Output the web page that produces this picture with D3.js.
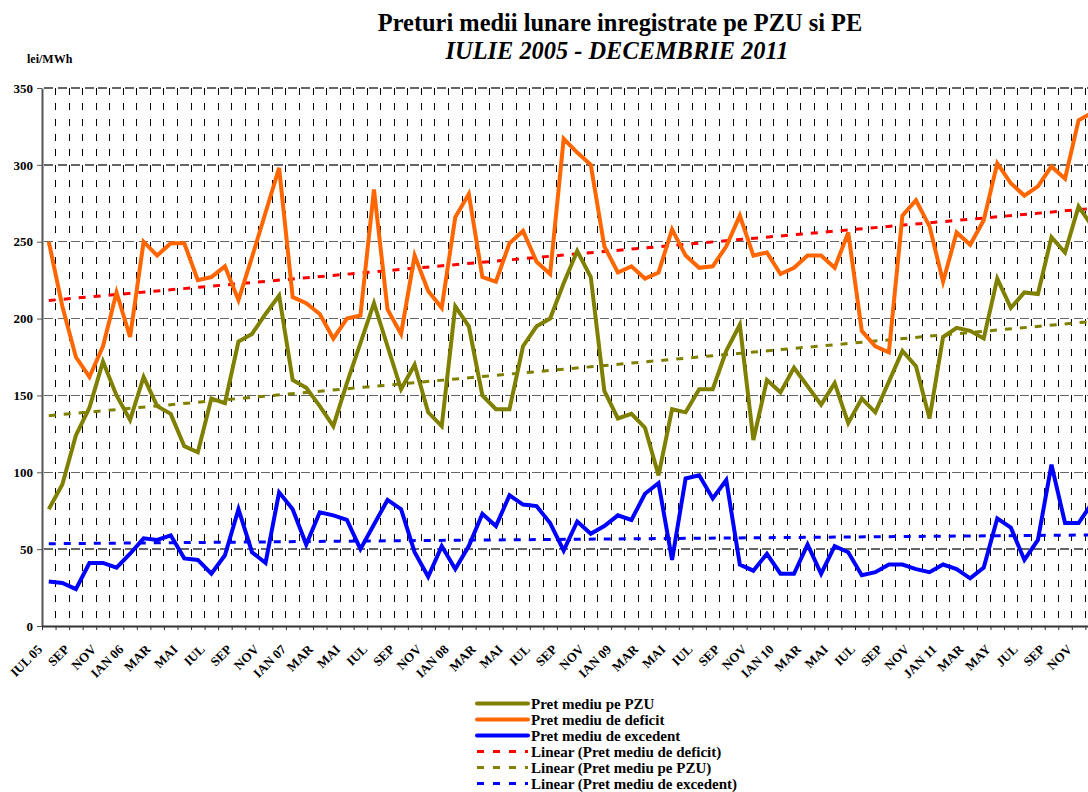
<!DOCTYPE html>
<html>
<head>
<meta charset="utf-8">
<script src="https://cdn.jsdelivr.net/npm/d3@7"></script>
<style>
  html, body { margin: 0; padding: 0; background: #fff; }
  svg { display: block; font-family: "Liberation Serif", "Times New Roman", serif; }
</style>
</head>
<body>
<div id="chart"></div>
<script>
// Etichete luni (o eticheta la doua luni, incepand cu IUL 05)
const monthLabels = ["IUL 05", "SEP", "NOV", "IAN 06", "MAR", "MAI", "IUL", "SEP", "NOV",
  "IAN 07", "MAR", "MAI", "IUL", "SEP", "NOV", "IAN 08", "MAR", "MAI", "IUL", "SEP", "NOV",
  "IAN 09", "MAR", "MAI", "IUL", "SEP", "NOV", "IAN 10", "MAR", "MAI", "IUL", "SEP", "NOV",
  "JAN 11", "MAR", "MAY", "JUL", "SEP", "NOV"];

// Pret mediu pe PZU (iul 2005 - dec 2011)
const pretPZU = [76, 92, 124, 142, 172, 150, 134, 162, 143, 138, 117, 113,
  148, 145, 185, 190, 203, 215, 160, 155, 143, 130, 158, 184,
  210, 182, 154, 170, 139, 130, 208, 195, 150, 141, 141, 182,
  195, 200, 223, 244, 227, 153, 135, 138, 129, 98, 141, 139,
  154, 154, 179, 196, 121, 160, 152, 168, 156, 144, 158, 132,
  148, 139, 159, 179, 169, 135, 188, 194, 192, 187, 226, 207,
  217, 216, 253, 243, 273, 260];

// Pret mediu de deficit
const pretDeficit = [250, 208, 175, 162, 182, 217, 188, 250, 241, 249, 249, 225,
  227, 234, 212, 240, 269, 298, 214, 210, 203, 187, 200, 202,
  284, 206, 190, 241, 218, 207, 266, 281, 227, 224, 249, 257,
  237, 229, 317, 308, 300, 247, 230, 234, 226, 230, 258, 241,
  233, 234, 247, 267, 241, 243, 229, 233, 241, 241, 233, 256,
  192, 182, 178, 267, 277, 260, 224, 256, 248, 264, 301, 288,
  280, 286, 299, 291, 329, 334];

// Pret mediu de excedent
const pretExcedent = [29, 28, 24, 41, 41, 38, 47, 57, 56, 59, 44, 43,
  34, 46, 76, 48, 41, 87, 76, 53, 74, 72, 69, 50,
  66, 82, 76, 48, 32, 52, 37, 52, 73, 65, 85, 79,
  78, 67, 49, 68, 60, 65, 72, 69, 86, 93, 43, 96,
  98, 83, 95, 40, 36, 47, 34, 34, 53, 34, 52, 48,
  33, 35, 40, 40, 37, 35, 40, 37, 31, 38, 70, 64,
  43, 56, 105, 67, 67, 80];

const yTicks = [0, 50, 100, 150, 200, 250, 300, 350];

const W = 1088, H = 792;
const plotLeft = 42, plotTop = 88, plotBottom = 626;
const step = 13.55;
const nMonths = pretPZU.length;

const svg = d3.select("#chart").append("svg")
  .attr("width", W).attr("height", H);

const x = d3.scaleLinear().domain([0, nMonths]).range([plotLeft, plotLeft + nMonths * step]);
const y = d3.scaleLinear().domain([0, 350]).range([plotBottom, plotTop]);
const xc = i => x(i + 0.5);

// ── Titlu ──
svg.append("text")
  .attr("x", 620).attr("y", 31)
  .attr("text-anchor", "middle")
  .attr("font-size", 24.4).attr("font-weight", "bold")
  .text("Preturi medii lunare inregistrate pe PZU si PE");
svg.append("text")
  .attr("x", 617).attr("y", 59)
  .attr("text-anchor", "middle")
  .attr("font-size", 24.4).attr("font-weight", "bold").attr("font-style", "italic")
  .text("IULIE 2005 - DECEMBRIE 2011");
svg.append("text")
  .attr("x", 27).attr("y", 63)
  .attr("font-size", 12).attr("font-weight", "bold")
  .text("lei/MWh");

// ── Grila ──
const grid = svg.append("g");
grid.selectAll("line.v")
  .data(d3.range(1, nMonths + 1))
  .join("line")
  .attr("x1", d => x(d)).attr("x2", d => x(d))
  .attr("y1", plotTop).attr("y2", plotBottom)
  .attr("stroke", "#000").attr("stroke-width", 1)
  .attr("stroke-dasharray", "7,8.37")
  .attr("shape-rendering", "crispEdges");
grid.selectAll("line.h")
  .data(yTicks.filter(d => d > 0))
  .join("line")
  .attr("x1", plotLeft).attr("x2", x(nMonths))
  .attr("y1", d => y(d)).attr("y2", d => y(d))
  .attr("stroke", "#666").attr("stroke-width", 1.3)
  .attr("stroke-dasharray", "9,4.55")
  .attr("stroke-dashoffset", -2)
  .attr("shape-rendering", "crispEdges");

// ── Axe ──
const yAxis = svg.append("g")
  .attr("transform", `translate(${plotLeft},0)`)
  .call(d3.axisLeft(y).tickValues(yTicks).tickSize(5).tickSizeOuter(0).tickPadding(4));
yAxis.select(".domain").attr("stroke", "#555").attr("stroke-width", 2);
yAxis.selectAll(".tick line").attr("stroke", "#555");
yAxis.selectAll("text")
  .attr("font-family", "Liberation Serif, serif")
  .attr("font-size", 13).attr("font-weight", "bold").attr("fill", "#000");

const xAxis = svg.append("g")
  .attr("transform", `translate(0,${plotBottom})`)
  .call(d3.axisBottom(x).tickValues(d3.range(0, nMonths + 1)).tickSize(4).tickSizeOuter(0).tickFormat(""));
xAxis.select(".domain").attr("stroke", "#333").attr("stroke-width", 2);
xAxis.selectAll(".tick line").attr("stroke", "#333");

svg.append("g")
  .selectAll("text")
  .data(monthLabels)
  .join("text")
  .attr("transform", (d, i) => `translate(${xc(i * 2) - 9},${plotBottom + 21}) rotate(-45)`)
  .attr("text-anchor", "end")
  .attr("dy", "0.35em")
  .attr("font-size", 13).attr("font-weight", "bold")
  .text(d => d);

// ── Linii de tendinta (regresie liniara pe date) ──
function linearFit(vals) {
  const n = vals.length;
  const mx = d3.mean(vals, (v, i) => i);
  const my = d3.mean(vals);
  let sxy = 0, sxx = 0;
  vals.forEach((v, i) => { sxy += (i - mx) * (v - my); sxx += (i - mx) * (i - mx); });
  const b = sxy / sxx, a = my - b * mx;
  return [[0, a], [n - 1, a + b * (n - 1)]];
}

const line = d3.line().x((d, i) => xc(i)).y(d => y(d));
const trendLine = d3.line().x(d => xc(d[0])).y(d => y(d[1]));

const trends = [
  { vals: pretDeficit, color: "#FF0000" },
  { vals: pretPZU, color: "#808000" },
  { vals: pretExcedent, color: "#0000FF" },
];
for (const t of trends) {
  svg.append("path")
    .attr("d", trendLine(linearFit(t.vals)))
    .attr("fill", "none").attr("stroke", t.color)
    .attr("stroke-width", 3).attr("stroke-dasharray", "7,8");
}

// ── Serii ──
const series = [
  { vals: pretExcedent, color: "#0000FF" },
  { vals: pretPZU, color: "#808000" },
  { vals: pretDeficit, color: "#FF6600" },
];
for (const s of series) {
  svg.append("path")
    .attr("d", line(s.vals))
    .attr("fill", "none").attr("stroke", s.color)
    .attr("stroke-width", 4).attr("stroke-linejoin", "miter");
}

// ── Legenda ──
const legendItems = [
  { label: "Pret mediu pe PZU", color: "#808000", dash: null },
  { label: "Pret mediu de deficit", color: "#FF6600", dash: null },
  { label: "Pret mediu de excedent", color: "#0000FF", dash: null },
  { label: "Linear (Pret mediu de deficit)", color: "#FF0000", dash: "7,9" },
  { label: "Linear (Pret mediu pe PZU)", color: "#808000", dash: "7,9" },
  { label: "Linear (Pret mediu de excedent)", color: "#0000FF", dash: "7,9" },
];
const lg = svg.append("g");
legendItems.forEach((d, i) => {
  const ly = 703.5 + i * 16;
  lg.append("line")
    .attr("x1", 477).attr("x2", 528).attr("y1", ly).attr("y2", ly)
    .attr("stroke", d.color)
    .attr("stroke-width", d.dash ? 3 : 4)
    .attr("stroke-linecap", d.dash ? "butt" : "round")
    .attr("stroke-dasharray", d.dash);
  lg.append("text")
    .attr("x", 531).attr("y", ly + 5)
    .attr("font-size", 15).attr("font-weight", "bold")
    .text(d.label);
});
</script>
</body>
</html>
